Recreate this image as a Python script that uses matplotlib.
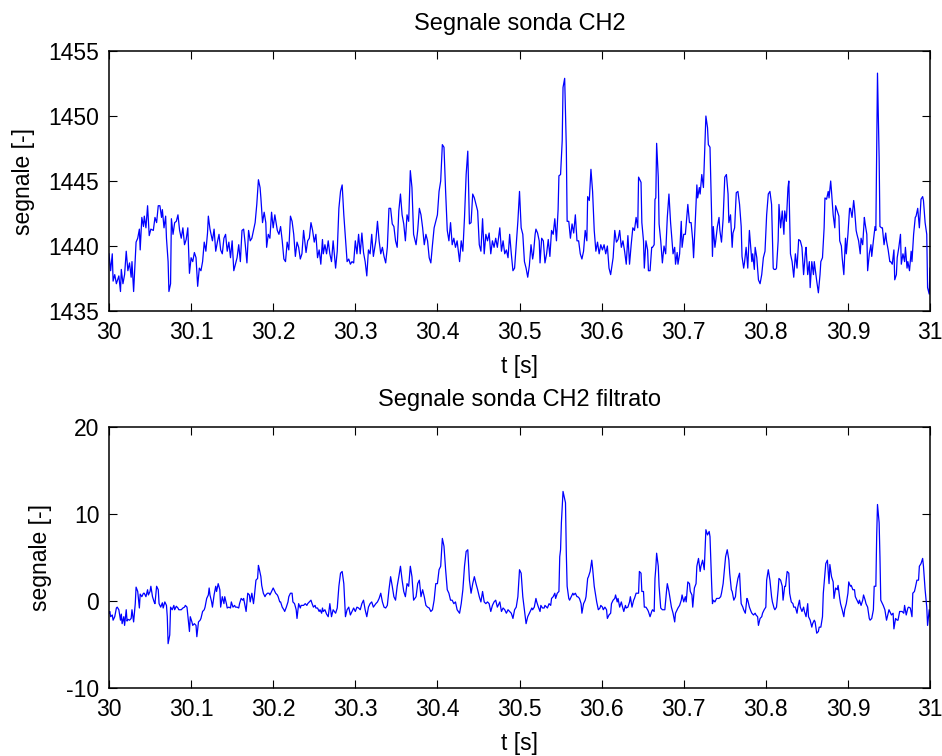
"""
Segnale sonda CH2: raw probe signal and filtered signal, 30-31 s window
"""

import numpy as np
import matplotlib
matplotlib.use('Agg')
import matplotlib.pyplot as plt

plt.rcParams['font.family'] = ['Liberation Sans', 'DejaVu Sans']
plt.rcParams['axes.unicode_minus'] = False

#%% Data (time in ms after 30 s)
# raw signal
top_ms = [
    # 30.00 - 30.26
    0, 2, 4, 5, 7, 9, 12, 14, 15, 17, 19, 21, 23, 25, 27, 28, 30, 33, 35, 37,
    38, 40, 42, 43, 45, 47, 49, 51, 54, 56, 58, 60, 62, 64, 65, 67, 69, 70, 72, 73,
    75, 76, 78, 80, 82, 84, 86, 88, 90, 92, 94, 96, 98, 100, 102, 104, 106, 108, 110, 112,
    114, 116, 118, 120, 121, 123, 126, 128, 130, 132, 134, 136, 138, 140, 142, 144, 146, 148, 150, 152,
    154, 156, 158, 160, 162, 164, 166, 168, 170, 172, 174, 176, 178, 180, 182, 184, 185, 187, 189, 191,
    192, 194, 196, 198, 200, 202, 205, 207, 209, 211, 213, 215, 217, 219, 221, 223, 225, 227, 229, 231,
    233, 235, 237, 240, 242, 244, 246, 248, 250, 252, 254, 256, 258, 260,
    # 30.26 - 30.51
    261, 263, 265, 267, 269, 271, 273, 276, 278, 280, 282, 284, 286, 288, 290, 292, 294, 296, 298, 300,
    302, 304, 306, 308, 310, 312, 314, 316, 318, 320, 322, 325, 327, 329, 331, 333, 335, 337, 339, 341,
    343, 345, 347, 349, 351, 353, 355, 357, 359, 361, 363, 365, 367, 369, 371, 374, 376, 378, 380, 382,
    384, 386, 388, 390, 392, 394, 396, 398, 400, 402, 404, 406, 408, 410, 412, 414, 416, 418, 420, 422,
    424, 427, 429, 431, 433, 435, 437, 439, 441, 443, 445, 447, 449, 451, 453, 455, 457, 459, 461, 463,
    465, 467, 469, 471, 473, 476, 478, 480, 482, 484, 486, 488, 490, 492, 494, 496, 498, 500, 502, 504,
    506, 508, 510, 512,
    # 30.51 - 30.77
    514, 516, 517, 519, 520, 522, 524, 525, 527, 529, 531, 533, 535, 537, 539, 541, 543, 545, 547, 548,
    550, 552, 553, 555, 557, 558, 560, 562, 564, 566, 568, 570, 572, 574, 576, 578, 580, 582, 583, 585,
    587, 589, 591, 593, 595, 597, 599, 601, 603, 605, 607, 609, 611, 614, 616, 618, 620, 622, 624, 626,
    628, 630, 632, 634, 636, 638, 640, 642, 644, 645, 648, 649, 651, 652, 654, 656, 657, 659, 661, 662,
    664, 665, 666, 667, 669, 670, 672, 674, 676, 678, 680, 682, 684, 685, 687, 689, 690, 692, 693, 695,
    697, 698, 700, 702, 703, 705, 707, 709, 711, 712, 714, 716, 717, 719, 720, 722, 724, 725, 727, 729,
    730, 732, 734, 735, 736, 738, 739, 741, 743, 744, 746, 748, 750, 752, 754, 755, 757, 759, 760, 762,
    764, 766, 768,
    # 30.77 - 31.00
    770, 771, 773, 774, 776, 778, 780, 781, 783, 784, 786, 787, 789, 791, 793, 795, 797, 799, 801, 803,
    805, 807, 809, 810, 812, 813, 815, 816, 818, 820, 822, 823, 825, 827, 828, 830, 832, 834, 836, 838,
    840, 842, 844, 846, 848, 849, 851, 853, 854, 856, 858, 859, 861, 862, 864, 866, 867, 869, 871, 872,
    874, 876, 877, 879, 880, 882, 884, 885, 887, 889, 890, 892, 893, 895, 897, 898, 900, 902, 903, 905,
    907, 908, 910, 911, 913, 915, 916, 918, 920, 921, 923, 924, 926, 928, 929, 931, 933, 934, 936, 938,
    939, 941, 942, 944, 946, 947, 949, 951, 952, 954, 956, 957, 959, 960, 962, 964, 965, 967, 969, 970,
    972, 973, 975, 977, 978, 980, 982, 983, 985, 987, 989, 991, 992, 994, 996, 997, 999, 1000,
]
top_val = [
    1439.4, 1438.1, 1439.4, 1437.3, 1437.8, 1437.1, 1437.7, 1436.5, 1438.2, 1437.1,
    1437.8, 1439.6, 1438.1, 1438.7, 1437.6, 1438.8, 1436.5, 1440.3, 1440.6, 1441.3,
    1439.7, 1442.2, 1441.5, 1442.3, 1441.4, 1443.1, 1440.8, 1441.3, 1441.2, 1442.2,
    1441.8, 1443.1, 1443.1, 1442.2, 1442.8, 1441.4, 1442.3, 1440.6, 1438.8, 1436.5,
    1437.1, 1442.1, 1440.9, 1441.8, 1441.9, 1442.4, 1441.2, 1440.6, 1441.4, 1440.1,
    1440.5, 1441.4, 1437.9, 1439.1, 1438.8, 1439.5, 1439.1, 1436.9, 1438.3, 1438.1,
    1438.8, 1440.3, 1439.6, 1441.0, 1442.3, 1441.3, 1440.4, 1441.3, 1439.6, 1440.3,
    1440.9, 1439.7, 1439.4, 1440.6, 1440.9, 1439.6, 1440.3, 1439.1, 1440.4, 1438.1,
    1438.6, 1439.1, 1440.1, 1438.8, 1441.2, 1441.3, 1440.1, 1438.7, 1441.2, 1440.4,
    1440.6, 1441.2, 1441.8, 1443.2, 1445.1, 1444.5, 1443.7, 1441.8, 1442.6, 1441.8,
    1439.9, 1440.9, 1440.6, 1442.6, 1441.4, 1442.4, 1441.2, 1440.9, 1441.5, 1440.4,
    1439.0, 1438.8, 1440.3, 1439.7, 1442.3, 1441.9, 1440.9, 1439.2, 1440.3, 1439.9,
    1439.0, 1439.4, 1441.2, 1439.5, 1440.4, 1440.6, 1441.8, 1441.2, 1440.3, 1440.9,
    1439.1, 1439.7, 1438.6, 1440.5,
    # 30.26 - 30.51
    1439.4, 1440.1, 1439.4, 1440.4, 1439.4, 1438.8, 1440.4, 1438.3, 1439.6, 1442.9,
    1444.2, 1444.7, 1442.4, 1440.6, 1438.8, 1439.0, 1438.6, 1438.8, 1438.7, 1440.4,
    1439.4, 1440.9, 1439.4, 1441.0, 1439.5, 1438.8, 1437.7, 1439.7, 1439.4, 1440.9,
    1439.2, 1440.4, 1441.9, 1440.4, 1439.4, 1439.9, 1439.2, 1438.7, 1439.9, 1442.9,
    1442.9, 1441.7, 1441.5, 1440.4, 1439.9, 1442.7, 1444.0, 1442.4, 1441.7, 1440.4,
    1442.4, 1441.9, 1445.8, 1444.5, 1440.9, 1440.1, 1441.2, 1442.9, 1442.4, 1441.4,
    1440.1, 1440.9, 1440.4, 1439.1, 1438.7, 1440.1, 1441.4, 1441.9, 1442.4, 1444.2,
    1445.0, 1447.8, 1447.6, 1444.2, 1441.2, 1440.4, 1441.8, 1440.1, 1440.6, 1439.9,
    1440.4, 1438.8, 1440.4, 1439.6, 1442.2, 1445.5, 1447.3, 1441.7, 1441.8, 1444.0,
    1443.7, 1443.2, 1442.7, 1440.1, 1439.6, 1442.1, 1439.4, 1440.9, 1440.4, 1441.0,
    1439.4, 1440.4, 1439.9, 1440.6, 1439.9, 1441.4, 1439.6, 1440.4, 1439.4, 1439.7,
    1439.1, 1440.9, 1439.4, 1438.1, 1438.3, 1440.1, 1441.9, 1444.2, 1441.4, 1440.9,
    1438.8, 1438.3, 1437.6, 1438.5,
    # 30.51 - 30.77
    1440.1, 1439.0, 1439.4, 1440.9, 1441.3, 1441.0, 1440.4, 1438.7, 1440.6, 1440.4,
    1438.7, 1439.4, 1440.5, 1439.2, 1441.2, 1440.9, 1442.1, 1440.4, 1442.8, 1445.4,
    1445.5, 1448.1, 1452.2, 1452.9, 1447.6, 1441.9, 1441.9, 1440.6, 1441.7, 1441.0,
    1442.4, 1440.4, 1440.4, 1439.4, 1439.0, 1439.6, 1441.2, 1440.4, 1443.8, 1443.5,
    1445.9, 1444.2, 1441.2, 1439.6, 1440.3, 1439.4, 1440.1, 1439.7, 1440.1, 1439.4,
    1440.0, 1438.3, 1437.8, 1439.1, 1441.2, 1440.3, 1440.5, 1441.2, 1439.9, 1440.4,
    1439.6, 1438.6, 1440.8, 1438.6, 1440.1, 1441.4, 1441.2, 1442.2, 1441.4, 1445.3,
    1444.9, 1441.8, 1440.4, 1438.3, 1440.4, 1439.7, 1438.1, 1438.1, 1439.9, 1439.9,
    1440.1, 1443.6, 1443.7, 1447.9, 1445.3, 1441.7, 1440.4, 1438.7, 1440.0, 1439.4,
    1442.2, 1444.0, 1441.8, 1441.0, 1439.4, 1439.9, 1438.6, 1439.5, 1438.6, 1439.4,
    1441.9, 1439.9, 1440.9, 1440.9, 1441.7, 1443.2, 1441.8, 1441.8, 1440.4, 1439.1,
    1441.8, 1444.7, 1443.7, 1444.5, 1444.0, 1445.5, 1444.5, 1446.3, 1450.0, 1449.1,
    1447.8, 1447.6, 1442.3, 1439.2, 1441.5, 1439.9, 1440.4, 1441.5, 1442.2, 1441.2,
    1440.3, 1442.1, 1445.3, 1445.5, 1444.0, 1441.8, 1442.4, 1439.9, 1441.0, 1441.4,
    1444.1, 1444.2, 1443.2,
    # 30.77 - 31.00
    1441.5, 1439.2, 1438.3, 1438.7, 1439.9, 1438.3, 1441.2, 1440.4, 1438.8, 1439.4,
    1438.2, 1439.9, 1439.1, 1437.4, 1437.1, 1437.8, 1439.1, 1439.6, 1442.4, 1444.0,
    1444.2, 1443.2, 1438.3, 1438.2, 1438.2, 1438.3, 1440.4, 1443.2, 1441.4, 1442.7,
    1440.9, 1442.7, 1441.9, 1444.5, 1445.0, 1439.4, 1438.8, 1437.6, 1439.4, 1438.3,
    1440.5, 1440.4, 1439.9, 1437.8, 1439.4, 1439.9, 1437.8, 1438.8, 1436.8, 1438.8,
    1437.8, 1438.8, 1437.8, 1437.3, 1436.4, 1437.8, 1438.8, 1439.1, 1441.4, 1443.7,
    1443.6, 1444.2, 1443.7, 1445.0, 1444.2, 1442.4, 1441.4, 1443.1, 1442.7, 1442.3,
    1440.4, 1440.0, 1439.1, 1437.8, 1440.6, 1439.4, 1440.9, 1442.9, 1442.9, 1442.2,
    1443.5, 1442.9, 1441.2, 1440.9, 1440.4, 1439.4, 1440.6, 1440.1, 1442.2, 1441.7,
    1440.9, 1438.1, 1439.4, 1440.1, 1439.2, 1440.4, 1441.5, 1441.2, 1453.3, 1446.8,
    1441.5, 1441.4, 1441.4, 1440.1, 1441.0, 1440.4, 1439.7, 1438.8, 1438.8, 1438.6,
    1439.7, 1437.4, 1437.8, 1439.1, 1439.9, 1440.9, 1438.6, 1439.4, 1438.8, 1439.9,
    1438.3, 1438.8, 1438.1, 1439.6, 1438.8, 1440.9, 1442.2, 1442.3, 1442.9, 1441.4,
    1443.6, 1443.8, 1443.5, 1441.8, 1440.9, 1436.8, 1436.3, 1438.3,
]

# filtered signal
bot_ms = [
    # 30.00 - 30.26
    0, 1, 2, 4, 5, 7, 9, 10, 12, 14, 15, 16, 18, 19, 21, 22, 23, 25, 27, 28,
    30, 32, 33, 35, 37, 38, 40, 42, 43, 45, 47, 48, 50, 51, 53, 55, 56, 58, 60, 61,
    63, 65, 66, 68, 70, 71, 72, 74, 75, 77, 79, 80, 82, 84, 85, 87, 88, 90, 92, 93,
    95, 97, 98, 99, 101, 102, 104, 106, 107, 109, 111, 112, 114, 116, 117, 119, 121, 122, 123, 125,
    126, 128, 130, 131, 133, 135, 136, 138, 140, 141, 143, 144, 146, 148, 149, 151, 153, 154, 156, 158,
    159, 161, 163, 164, 166, 167, 169, 171, 172, 174, 176, 177, 179, 181, 182, 183, 185, 186, 188, 190,
    191, 193, 195, 196, 198, 200, 201, 203, 205, 206, 208, 209, 211, 213, 214, 216, 218, 219, 221, 223,
    224, 226, 228, 229, 231, 233, 234, 236, 237, 239, 241, 242, 244, 246, 247, 249, 251, 252, 254, 256,
    257, 259, 260,
    # 30.26 - 30.51
    261, 263, 265, 267, 269, 271, 273, 276, 278, 280, 282, 284, 286, 288, 290, 292, 294, 296, 298, 300,
    302, 304, 306, 308, 310, 312, 314, 316, 318, 320, 322, 325, 327, 329, 331, 333, 335, 337, 339, 341,
    343, 345, 347, 349, 351, 353, 355, 357, 359, 361, 363, 365, 367, 369, 371, 374, 376, 378, 380, 382,
    384, 386, 388, 390, 392, 394, 396, 398, 400, 402, 404, 406, 408, 410, 412, 414, 416, 418, 420, 422,
    424, 427, 429, 431, 433, 435, 437, 439, 441, 443, 445, 447, 449, 451, 453, 455, 457, 459, 461, 463,
    465, 467, 469, 471, 473, 476, 478, 480, 482, 484, 486, 488, 490, 492, 494, 496, 498, 500, 502, 504,
    506, 508, 510, 512,
    # 30.51 - 30.77
    515, 516, 518, 520, 521, 523, 525, 526, 528, 530, 531, 533, 534, 536, 538, 539, 541, 543, 544, 546,
    548, 549, 550, 551, 553, 555, 556, 557, 558, 560, 561, 563, 565, 566, 568, 570, 571, 573, 575, 576,
    578, 580, 581, 583, 584, 586, 588, 589, 591, 593, 594, 596, 598, 599, 601, 602, 604, 606, 607, 609,
    611, 612, 614, 616, 617, 619, 620, 622, 624, 625, 627, 629, 630, 632, 634, 635, 637, 639, 640, 642,
    643, 645, 646, 648, 649, 651, 652, 654, 656, 657, 659, 661, 662, 664, 665, 666, 667, 669, 670, 672,
    674, 675, 677, 679, 680, 682, 684, 685, 687, 689, 690, 692, 693, 695, 697, 698, 700, 702, 703, 705,
    707, 708, 710, 711, 713, 715, 716, 718, 720, 721, 723, 725, 726, 727, 729, 731, 732, 734, 735, 736,
    738, 740, 741, 743, 745, 746, 748, 750, 751, 753, 755, 756, 758, 759, 761, 763, 764, 766, 768, 769,
    # 30.77 - 31.00
    770, 772, 773, 775, 777, 778, 780, 782, 783, 785, 787, 788, 790, 791, 793, 795, 796, 798, 800, 801,
    803, 805, 807, 808, 810, 811, 813, 815, 816, 818, 820, 821, 823, 824, 826, 828, 829, 831, 833, 834,
    836, 838, 839, 841, 842, 844, 846, 847, 849, 851, 852, 854, 856, 857, 859, 860, 862, 864, 865, 867,
    869, 870, 872, 873, 875, 877, 878, 880, 882, 883, 885, 887, 888, 890, 891, 893, 895, 896, 898, 900,
    901, 903, 904, 906, 908, 909, 911, 913, 914, 916, 918, 919, 921, 922, 924, 926, 927, 929, 931, 932,
    934, 935, 936, 938, 939, 940, 942, 943, 945, 947, 948, 950, 951, 953, 955, 956, 958, 960, 961, 963,
    964, 966, 968, 969, 971, 973, 974, 976, 978, 979, 981, 982, 984, 986, 987, 989, 991, 992, 994, 996,
    997, 999, 1000,
]
bot_val = [
    -1.4, -1.2, -1.8, -1.6, -2.2, -1.8, -0.8, -0.7, -1.0, -2.2,
    -1.5, -2.6, -1.8, -2.8, -1.0, -2.3, -2.1, -2.2, -2.0, -1.0,
    -2.4, -0.3, 1.6, 1.1, -0.8, 0.8, 0.5, 0.9, 0.9, 0.5,
    1.3, 0.7, 1.1, 1.7, 0.5, -0.1, -0.3, 1.7, 1.3, -0.3,
    -0.7, -0.2, -0.8, -0.1, -0.5, -1.8, -4.9, -3.9, -0.7, -1.0,
    -0.5, -1.0, -0.6, -0.8, -1.0, -1.0, -1.0, -0.8, -0.7, -0.5,
    -0.7, -2.6, -3.5, -1.8, -2.4, -2.8, -2.6, -2.8, -4.1, -2.4,
    -2.2, -2.0, -1.2, -1.0, -0.7, 0.3, 0.7, 1.5, 0.7, -0.1,
    -0.7, 0.7, 1.7, 1.1, 2.0, 1.3, -0.7, 0.5, -0.3, 0.5,
    -0.3, -0.8, -0.7, -0.8, -0.1, -0.7, -0.5, -0.7, -0.7, -0.8,
    -0.3, 0.3, 0.1, 0.3, -0.7, -1.2, 0.9, 0.7, -0.1, 0.9,
    -0.3, 0.5, 2.4, 2.6, 4.1, 3.7, 2.8, 1.8, 0.9, 0.5,
    0.7, 0.9, 0.9, 0.7, 1.1, 1.5, 1.3, 0.9, 0.7, 0.5,
    -0.1, -0.1, -0.7, -1.0, -1.2, -0.7, -0.1, 0.5, 0.9, 0.9,
    -0.1, -0.3, -1.0, -2.0, -0.3, -0.8, -0.5, -0.5, -0.5, -0.3,
    -0.5, -0.3, -0.1, 0.1, -0.2, -0.7, -0.5, -0.8, -0.8, -1.2,
    -1.0, -1.4, -0.8,
    # 30.26 - 30.51
    -1.2, -1.0, -1.5, -1.8, -0.3, -1.8, -1.0, -1.4, -0.8, 1.7,
    3.2, 3.4, 2.0, -1.8, -1.0, -0.7, -1.6, -1.2, -0.8, -1.2,
    -0.7, -0.8, -1.0, -0.3, 0.1, -1.0, -1.8, -0.7, -0.3, -0.1,
    -0.7, -0.3, -0.1, 0.3, 0.9, -0.1, -0.7, -0.8, -0.5, 1.3,
    2.8, 1.7, 0.5, 0.1, 1.7, 2.8, 4.0, 2.4, 1.1, 0.5,
    2.0, 1.7, 4.0, 2.8, 0.1, 0.5, 2.0, 2.4, 0.5, 1.3,
    0.5, -0.5, -0.7, -0.8, -1.2, -1.0, 0.1, 2.0, 2.0, 3.6,
    4.0, 7.2, 6.3, 3.6, 1.3, 0.9, 0.1, 0.1, -0.3, -0.1,
    -1.0, -1.4, -0.3, 1.3, 4.0, 5.7, 5.9, 2.4, 0.9, 2.0,
    2.8, 2.0, 1.3, 0.5, -0.1, 1.1, -0.1, -0.3, -0.1, -0.3,
    -1.2, -0.5, -0.1, 0.1, -0.7, -0.1, -1.2, -0.8, -1.0, -1.4,
    -1.0, -1.2, -1.4, -2.0, -1.0, -0.7, 0.5, 3.6, 3.2, 0.5,
    -1.0, -2.6, -1.8, -1.4,
    # 30.51 - 30.77
    -0.8, -1.0, -0.7, 0.3, -0.1, -0.7, -1.2, -0.5, -0.8, -0.8,
    -0.5, -0.7, -0.8, -0.3, -0.5, 0.3, 0.5, 0.9, 0.3, 0.9,
    1.1, 5.1, 5.9, 9.0, 12.6, 11.7, 11.3, 5.5, 1.7, 0.3,
    0.1, 0.5, 0.9, 0.7, 0.9, 0.5, 0.5, 0.3, -0.3, -1.4,
    -0.3, 0.1, 0.5, 2.6, 2.8, 3.4, 4.7, 3.8, 1.7, 0.5,
    -0.1, -1.0, -0.8, -0.5, -0.7, -1.0, -0.7, -1.0, -2.0, -1.6,
    -1.4, -0.3, 0.1, 0.3, 0.7, -0.1, 0.3, -0.7, -0.1, -0.5,
    -1.2, -0.5, -0.8, -0.7, -0.1, 0.5, -0.7, 0.1, 0.3, 0.9,
    0.9, 0.9, 3.4, 3.2, 1.1, 1.1, -0.7, -0.7, -1.0, -1.2,
    -1.8, -1.2, -1.0, -1.2, 2.6, 3.8, 5.5, 4.0, 1.7, -0.8,
    -1.0, -1.0, -1.0, 1.1, 2.0, 1.1, -0.1, -0.7, -1.4, -2.4,
    -1.4, -1.0, -0.8, -0.5, 0.1, 0.7, -0.1, 0.5, -0.1, 2.2,
    2.0, 1.1, 0.7, -0.7, 1.5, 2.0, 4.0, 4.9, 3.4, 4.0,
    4.7, 3.6, 5.9, 8.2, 7.6, 8.0, 7.4, 2.0, -0.3, 0.1,
    -0.1, 0.3, 0.3, 0.3, 0.5, 0.9, 2.0, 4.0, 5.1, 5.9,
    4.7, 3.2, 1.3, 1.1, 0.1, 0.5, 1.5, 2.6, 3.2, 1.3,
    # 30.77 - 31.00
    -0.3, -0.7, -1.0, -1.4, 0.3, 0.1, -0.7, -1.2, -1.4, -1.6,
    -1.4, -1.6, -1.8, -2.8, -2.0, -1.8, -1.4, -1.0, -0.7, 2.4,
    3.6, 2.4, 0.5, -0.1, -0.8, -1.0, -0.7, 1.3, 2.6, 2.4,
    1.7, 0.1, 1.7, 1.7, 3.4, 3.2, 0.9, -0.1, -0.3, -0.7,
    -0.7, -1.4, -0.7, 0.1, -0.7, -1.2, -0.7, -1.2, -1.8, -0.3,
    -1.8, -2.2, -3.0, -2.6, -2.2, -2.4, -3.7, -3.5, -3.0, -3.0,
    -1.8, 0.9, 3.2, 4.3, 4.7, 2.0, 4.2, 2.8, 2.2, 0.3,
    1.5, 1.3, 1.8, 0.3, -0.3, -1.0, -1.8, -1.0, -0.3, 0.9,
    2.2, 1.7, 1.8, 1.3, 1.3, 0.5, 0.1, -0.3, 0.1, -0.5,
    0.1, 0.7, 0.1, -0.3, -0.7, -2.0, -2.2, -2.0, -1.0, 1.7,
    1.7, 7.4, 11.1, 9.0, 5.1, 0.1, -0.3, -0.5, -1.0, -2.2,
    -1.8, -1.0, -1.2, -1.6, -1.4, -3.2, -2.0, -2.2, -2.2, -1.2,
    -1.2, -1.2, -1.4, -0.5, -1.6, -0.8, -0.7, -0.8, -1.8, 0.9,
    1.1, 1.5, 2.4, 2.4, 4.0, 4.3, 4.9, 4.0, 1.3, -0.7,
    -2.8, -1.0, -1.8,
]

x_ticks = [30, 30.1, 30.2, 30.3, 30.4, 30.5, 30.6, 30.7, 30.8, 30.9, 31]
x_ticklabels = ['30', '30.1', '30.2', '30.3', '30.4', '30.5', '30.6', '30.7', '30.8', '30.9', '31']
top_yticks = [1435, 1440, 1445, 1450, 1455]
bot_yticks = [-10, 0, 10, 20]

assert len(top_ms) == len(top_val), (len(top_ms), len(top_val))
assert len(bot_ms) == len(bot_val), (len(bot_ms), len(bot_val))

t_top = 30 + np.array(top_ms) / 1000.0
t_bot = 30 + np.array(bot_ms) / 1000.0

#%% Figure
fig = plt.figure(figsize=(9.42, 7.56), dpi=100)
ax1 = fig.add_axes([0.1157, 0.5886, 0.8716, 0.3439])
ax2 = fig.add_axes([0.1157, 0.0899, 0.8716, 0.3452])

panels = [
    (ax1, t_top, top_val, 'Segnale sonda CH2', (1435, 1455), top_yticks),
    (ax2, t_bot, bot_val, 'Segnale sonda CH2 filtrato', (-10, 20), bot_yticks),
]

for ax, t, y, title, ylim, yticks in panels:
    ax.plot(t, y, color='#0000ff', linewidth=0.9)
    ax.set_xlim(30, 31)
    ax.set_ylim(*ylim)
    ax.set_xticks(x_ticks)
    ax.set_xticklabels(x_ticklabels)
    ax.set_yticks(yticks)
    ax.set_title(title, fontsize=17, pad=15)
    ax.set_xlabel('t [s]', fontsize=16.5, labelpad=8)
    ax.set_ylabel('segnale [-]', fontsize=16.5, labelpad=10)
    ax.tick_params(direction='in', top=True, right=True, length=6, width=0.8,
                   labelsize=16.5, pad=7)
    for s in ax.spines.values():
        s.set_linewidth(1.1)

fig.savefig('out.png', dpi=100)
